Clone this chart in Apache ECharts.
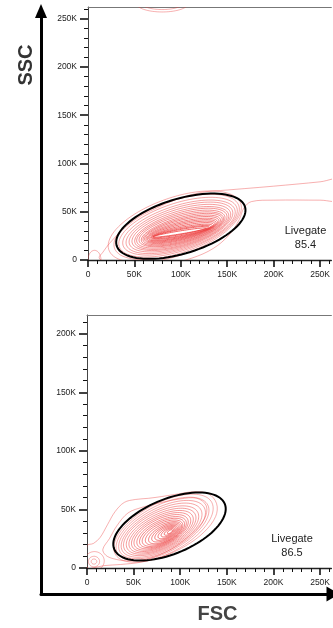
<!DOCTYPE html>
<html>
<head>
<meta charset="utf-8">
<script src="https://cdn.jsdelivr.net/npm/echarts@6/dist/echarts.min.js"></script>
<style>
html, body { margin: 0; padding: 0; background: #fff; }
#main { width: 333px; height: 628px; }
</style>
</head>
<body>
<div id="main"></div>
<script>
// all values in K (thousands of channel units)
var axisMaxX = 262.144;
var topAxisMaxY = 262.144;
var bottomAxisMaxY = 216;
var tickValuesX = [0, 50, 100, 150, 200, 250];
var tickValuesTopY = [0, 50, 100, 150, 200, 250];
var tickValuesBottomY = [0, 50, 100, 150, 200];

// nested density contours, inner to outer: [centerX, centerY, semiMajor, semiMinor, angleDeg]
var topContours = [
    [99, 28.5, 29, 1.6, 9], [100, 29, 30.5, 2.6, 10], [100.5, 29, 32, 3.6, 10.5],
    [101, 29.3, 33.5, 4.6, 11], [101, 29.6, 35, 5.7, 12], [101, 30, 36.5, 6.8, 12.5],
    [101, 30.3, 38, 7.9, 13], [101, 30.6, 39.5, 9, 13.5], [101, 31, 41.2, 10.2, 14],
    [101, 31.2, 43, 11.4, 14.5], [101, 31.5, 45, 12.6, 15], [100.5, 31.8, 47, 13.9, 15],
    [100, 32, 49.2, 15.2, 15.5], [100, 32.3, 51.5, 16.6, 16], [99.5, 32.6, 54, 18, 16],
    [99, 33, 56.8, 19.5, 16.5], [98.5, 33.3, 59.8, 21.1, 17], [98, 33.6, 63, 22.8, 17],
    [97, 34, 66.5, 24.8, 17.5], [95.5, 34.3, 70.5, 27.2, 18], [93.5, 34.5, 75, 30, 18.5]
];
// outermost top contour, running off to the right as a tail
var topOuterContour = [
    [12, 2], [16, 8], [23, 17], [37, 31], [54, 44], [72, 53], [96, 63], [122, 70],
    [150, 72.5], [169, 74], [200, 76.5], [250, 81], [275, 84], [275, 62], [250, 62],
    [200, 62], [176, 60.5], [168, 54], [163, 42], [152, 26], [135, 12], [112, 2],
    [85, -4], [50, -6], [22, -4]
];
var topCornerContours = [[7, 0, 7, 10, 0]];
var topCapContours = [[80, 266, 28, 9, 0], [80, 266, 22, 6.5, 0]];
var topGate = [[100, 35, 72, 28.5, 16]];

var bottomContours = [
    [89, 31, 3, 1.2, 25], [88, 30.8, 5.5, 2, 23], [87, 30.5, 8, 2.9, 22],
    [86, 30.2, 10.5, 3.8, 22], [85, 30, 13, 4.7, 21], [84, 29.8, 15.5, 5.6, 21],
    [83, 29.6, 18, 6.6, 21], [82, 29.6, 20.5, 7.6, 20], [81, 29.7, 23, 8.6, 20],
    [80.5, 29.9, 25.5, 9.6, 20], [80, 30.1, 28, 10.6, 20], [79.5, 30.4, 30.7, 11.7, 20],
    [79.5, 30.7, 33.5, 12.8, 20], [79.5, 31, 36.4, 14, 20], [79.5, 31.4, 39.4, 15.2, 20],
    [79.5, 31.8, 42.5, 16.5, 20], [80, 32.3, 45.8, 17.8, 20.5], [80.5, 32.8, 49.2, 19.2, 20.5],
    [81, 33.4, 52.8, 20.7, 21], [82, 34, 56.5, 22.3, 21]
];
var bottomOuterContours = [
    [[0, 0], [0, 19], [7, 21], [14, 26], [22, 37], [30, 48], [40, 56], [52, 58.5],
     [66, 59.5], [80, 61], [96, 63], [114, 65], [130, 63.5], [139, 55], [138, 44],
     [126, 31], [106, 19], [82, 10], [58, 5], [36, 3], [18, 2], [6, 0]],
    [[17, 16], [24, 25], [32, 36], [44, 47], [60, 52], [80, 56], [100, 59], [118, 59.5],
     [128, 53], [126, 42], [112, 29], [90, 16], [66, 8], [44, 6], [28, 8], [20, 11]]
];
var bottomCornerContours = [[7.5, 5.5, 3, 2.2, 0], [7.5, 5.5, 6, 4.5, 0], [8, 6, 10.5, 8, 0]];
var bottomGate = [[88.5, 35.4, 62.5, 24, 16.5]];

var gateName = 'Livegate';
var gatePercents = ['85.4', '86.5'];

var labelFont = 'Liberation Sans, Arial, sans-serif';

// inner levels drawn in a stronger red than the outer ones
function levelStyle(i, n) {
    var alpha = n > 1 ? 0.9 - 0.45 * i / (n - 1) : 0.5;
    return { fill: 'none', stroke: 'rgba(236, 60, 60, ' + alpha.toFixed(2) + ')', lineWidth: 0.9 };
}

function ellipseItem(fixedStyle) {
    return function (params, api) {
        var cx = api.value(0), cy = api.value(1), a = api.value(2), b = api.value(3);
        var ang = api.value(4) * Math.PI / 180;
        var pts = [];
        for (var i = 0; i < 90; i++) {
            var t = i / 90 * 2 * Math.PI;
            pts.push(api.coord([
                cx + a * Math.cos(ang) * Math.cos(t) - b * Math.sin(ang) * Math.sin(t),
                cy + a * Math.sin(ang) * Math.cos(t) + b * Math.cos(ang) * Math.sin(t)
            ]));
        }
        var style = fixedStyle || levelStyle(params.dataIndex, params.dataInsideLength);
        return { type: 'polygon', shape: { points: pts }, style: style };
    };
}

function pathItem(list, style) {
    return function (params, api) {
        var pts = list[params.dataIndex].map(function (p) { return api.coord(p); });
        return { type: 'polygon', shape: { points: pts, smooth: 0.35 }, style: style };
    };
}

function ellipseSeries(panel, list, style) {
    return {
        type: 'custom', xAxisIndex: panel, yAxisIndex: panel, clip: true, silent: true,
        dimensions: ['cx', 'cy', 'a', 'b', 'angle'], encode: { x: 0, y: 1 },
        renderItem: ellipseItem(style), data: list
    };
}

function pathSeries(panel, list, style) {
    return {
        type: 'custom', xAxisIndex: panel, yAxisIndex: panel, clip: true, silent: true,
        encode: { x: 0, y: 1 },
        renderItem: pathItem(list, style),
        data: list.map(function (c) { return c[0]; })
    };
}

function fmt(v) { return v === 0 ? '0' : v + 'K'; }

function panelX(panel) {
    return {
        type: 'value', gridIndex: panel, min: 0, max: axisMaxX,
        axisLine: { lineStyle: { color: '#222', width: 1.3 } },
        axisTick: { customValues: tickValuesX, length: 7, lineStyle: { color: '#111', width: 1.6 } },
        minorTick: { show: true, splitNumber: 5, length: 4, lineStyle: { color: '#111', width: 1 } },
        axisLabel: { customValues: tickValuesX, formatter: fmt, fontSize: 8.5, color: '#222', margin: 10, fontFamily: labelFont },
        splitLine: { show: false }
    };
}

function frameTop(panel) {
    return {
        type: 'value', gridIndex: panel, position: 'top', min: 0, max: axisMaxX,
        axisLine: { lineStyle: { color: '#777', width: 1 } },
        axisTick: { show: false }, axisLabel: { show: false }, splitLine: { show: false }
    };
}

function panelY(panel, max, ticks) {
    return {
        type: 'value', gridIndex: panel, min: 0, max: max,
        axisLine: { lineStyle: { color: '#444', width: 1 } },
        axisTick: { customValues: ticks, length: 8, lineStyle: { color: '#111', width: 1.6 } },
        minorTick: { show: true, splitNumber: 5, length: 4, lineStyle: { color: '#111', width: 1 } },
        axisLabel: { customValues: ticks, formatter: fmt, fontSize: 8.5, color: '#222', margin: 11, fontFamily: labelFont },
        splitLine: { show: false }
    };
}

var outerStyle = { fill: 'none', stroke: 'rgba(236, 60, 60, 0.45)', lineWidth: 0.9 };
var gateStyle = { fill: 'none', stroke: '#000', lineWidth: 2 };

var myChart = echarts.init(document.getElementById('main'));
var option = {
    animation: false,
    backgroundColor: '#fff',
    grid: [
        { left: 88, top: 7, width: 256, height: 253 },
        { left: 87, top: 315, width: 256, height: 253 },
        { left: 41, top: 11, right: -1.5, bottom: 34 }
    ],
    xAxis: [
        panelX(0), panelX(1), frameTop(0), frameTop(1),
        {
            type: 'value', gridIndex: 2, min: 0, max: 1,
            axisLine: { symbol: ['none', 'triangle'], symbolSize: [15, 13], lineStyle: { color: '#000', width: 3 } },
            axisTick: { show: false }, axisLabel: { show: false }, splitLine: { show: false }
        }
    ],
    yAxis: [
        panelY(0, topAxisMaxY, tickValuesTopY),
        panelY(1, bottomAxisMaxY, tickValuesBottomY),
        {
            type: 'value', gridIndex: 2, min: 0, max: 1,
            axisLine: { symbol: ['none', 'triangle'], symbolSize: [12, 14], lineStyle: { color: '#000', width: 3 } },
            axisTick: { show: false }, axisLabel: { show: false }, splitLine: { show: false }
        }
    ],
    graphic: [
        { type: 'text', x: 26, y: 65, rotation: Math.PI / 2,
          style: { text: 'SSC', font: 'bold 20px ' + labelFont, fill: '#333', align: 'center', verticalAlign: 'middle' } },
        { type: 'text', x: 217.5, y: 614,
          style: { text: 'FSC', font: 'bold 20px ' + labelFont, fill: '#444', align: 'center', verticalAlign: 'middle' } },
        { type: 'text', x: 305.5, y: 238,
          style: { text: gateName + '\n' + gatePercents[0], font: '11px ' + labelFont, fill: '#222', align: 'center', verticalAlign: 'middle', lineHeight: 13.5 } },
        { type: 'text', x: 292, y: 546,
          style: { text: gateName + '\n' + gatePercents[1], font: '11px ' + labelFont, fill: '#222', align: 'center', verticalAlign: 'middle', lineHeight: 14 } }
    ],
    series: [
        ellipseSeries(0, topContours, null),
        pathSeries(0, [topOuterContour], outerStyle),
        ellipseSeries(0, topCornerContours, outerStyle),
        ellipseSeries(0, topCapContours, outerStyle),
        ellipseSeries(0, topGate, gateStyle),
        ellipseSeries(1, bottomContours, null),
        pathSeries(1, bottomOuterContours, outerStyle),
        ellipseSeries(1, bottomCornerContours, outerStyle),
        ellipseSeries(1, bottomGate, gateStyle)
    ]
};
myChart.setOption(option);
</script>
</body>
</html>
